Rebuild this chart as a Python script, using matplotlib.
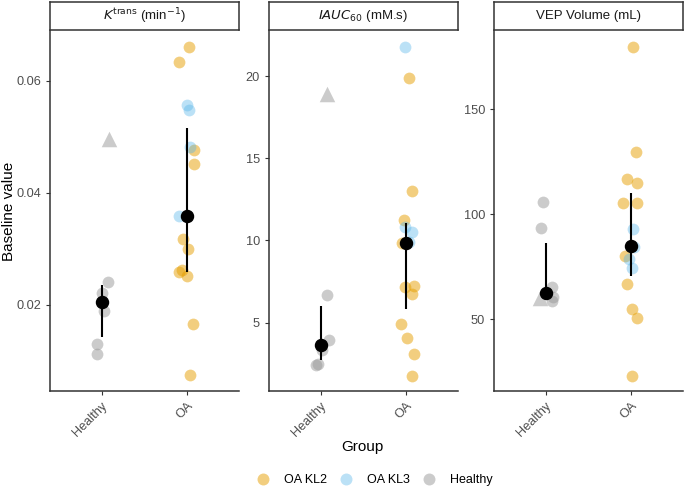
import matplotlib.pyplot as plt
from matplotlib.lines import Line2D

plt.rcParams['font.family'] = ['Liberation Sans', 'DejaVu Sans']

groups = ["Healthy", "OA"]

# Ktrans panel
k_healthy = [0.0241, 0.0221, 0.0188, 0.0130, 0.0112]
k_healthy_jit = [0.07, 0.01, 0.03, -0.05, -0.05]
k_tri = 0.0496
k_kl2 = [0.0660, 0.0633, 0.0476, 0.0452, 0.0317, 0.0300, 0.0259, 0.0262, 0.0252, 0.0166, 0.0074]
k_kl2_jit = [0.02, -0.10, 0.08, 0.08, -0.05, 0.01, -0.10, -0.06, 0.00, 0.06, 0.03]
k_kl3 = [0.0557, 0.0548, 0.0482, 0.0358]
k_kl3_jit = [-0.01, 0.02, 0.03, -0.10]
k_mean = [0.0205, 0.0358]
k_lo = [0.0143, 0.0259]
k_hi = [0.0236, 0.0516]

# IAUC60 panel
i_healthy = [6.68, 3.94, 3.33, 2.48, 2.45]
i_healthy_jit = [0.08, 0.10, 0.02, -0.03, -0.05]
i_tri = 18.9
i_kl2 = [19.88, 13.02, 11.24, 9.82, 7.18, 7.22, 6.74, 4.90, 4.04, 3.07, 1.77]
i_kl2_jit = [0.03, 0.07, -0.03, -0.05, -0.02, 0.09, 0.07, -0.06, 0.01, 0.09, 0.07]
i_kl3 = [21.75, 10.83, 10.53, 9.92]
i_kl3_jit = [-0.02, -0.02, 0.06, 0.03]
i_mean = [3.64, 9.86]
i_lo = [2.7, 5.83]
i_hi = [6.0, 11.04]

# VEP volume panel
v_healthy = [106.0, 93.3, 65.4, 60.4, 58.6]
v_healthy_jit = [-0.03, -0.05, 0.08, 0.09, 0.07]
v_tri = 59.9
v_kl2 = [179.6, 129.6, 116.8, 115.0, 105.2, 105.2, 80.1, 66.6, 54.7, 50.7, 23.0]
v_kl2_jit = [0.02, 0.05, -0.05, 0.06, -0.10, 0.07, -0.08, -0.05, 0.01, 0.06, 0.01]
v_kl3 = [92.9, 84.5, 78.6, 74.5]
v_kl3_jit = [0.02, 0.03, -0.03, 0.01]
v_mean = [62.6, 84.8]
v_lo = [59.1, 70.5]
v_hi = [86.4, 110.0]

titles = [r"$K^{\mathrm{trans}}$ (min$^{-1}$)", r"$\mathit{IAUC}_{60}$ (mM.s)", "VEP Volume (mL)"]
yticks = [[0.02, 0.04, 0.06], [5, 10, 15, 20], [50, 100, 150]]
ticklabels = [["0.02", "0.04", "0.06"], ["5", "10", "15", "20"], ["50", "100", "150"]]
ylims = [(0.0046, 0.0689), (0.84, 22.74), (15.7, 187.3)]

panels = [
    (k_healthy, k_healthy_jit, k_tri, k_kl2, k_kl2_jit, k_kl3, k_kl3_jit, k_mean, k_lo, k_hi),
    (i_healthy, i_healthy_jit, i_tri, i_kl2, i_kl2_jit, i_kl3, i_kl3_jit, i_mean, i_lo, i_hi),
    (v_healthy, v_healthy_jit, v_tri, v_kl2, v_kl2_jit, v_kl3, v_kl3_jit, v_mean, v_lo, v_hi),
]
tri_jit = [0.09, 0.08, -0.06]

c_kl2 = "#E69F00"
c_kl3 = "#56B4E9"
c_hea = "#999999"

fig = plt.figure(figsize=(6.85, 4.88), dpi=100)
lefts = [50, 269, 494]
width = 189
bottom = 1 - 391 / 488
top = 1 - 31 / 488

for i, p in enumerate(panels):
    hea, hea_j, tri, kl2, kl2_j, kl3, kl3_j, mean, lo, hi = p
    ax = fig.add_axes([lefts[i] / 685, bottom, width / 685, top - bottom])
    ax.scatter([1 + j for j in hea_j], hea, s=72, color=c_hea, alpha=0.5, lw=0, zorder=2)
    ax.scatter([1 + tri_jit[i]], [tri], s=125, marker="^", color=c_hea, alpha=0.5, lw=0, zorder=2)
    ax.scatter([2 + j for j in kl2_j], kl2, s=72, color=c_kl2, alpha=0.5, lw=0, zorder=2)
    ax.scatter([2 + j for j in kl3_j], kl3, s=72, color=c_kl3, alpha=0.4, lw=0, zorder=2)
    ax.vlines([1, 2], lo, hi, color="black", lw=1.5, zorder=3)
    ax.scatter([1, 2], mean, s=75, color="black", zorder=4)

    ax.set_xlim(0.4, 2.6)
    ax.set_ylim(*ylims[i])
    ax.set_xticks([1, 2])
    ax.set_xticklabels(groups, rotation=45, ha="right", rotation_mode="anchor")
    ax.set_yticks(yticks[i])
    ax.set_yticklabels(ticklabels[i])
    ax.tick_params(colors="#4D4D4D", labelsize=9.2, length=3)
    ax.tick_params(axis="both", color="#333333")
    for s in ["top", "right"]:
        ax.spines[s].set_visible(False)
    for s in ["left", "bottom"]:
        ax.spines[s].set_linewidth(1.1)
        ax.spines[s].set_color("#333333")

    # strip header
    strip = fig.add_axes([lefts[i] / 685, 1 - 30 / 488, width / 685, 28 / 488])
    strip.set_xticks([])
    strip.set_yticks([])
    for s in strip.spines.values():
        s.set_linewidth(1.1)
        s.set_color("#333333")
    strip.text(0.5, 0.5, titles[i], ha="center", va="center", fontsize=9.5, color="#1A1A1A")

fig.text(9 / 685, 1 - 211 / 488, "Baseline value", rotation=90, ha="center", va="center", fontsize=11)
fig.text(362 / 685, 1 - 447 / 488, "Group", ha="center", va="center", fontsize=11)

handles = [
    Line2D([], [], ls="", marker="o", ms=8.6, color=c_kl2, alpha=0.5, mew=0, label="OA KL2"),
    Line2D([], [], ls="", marker="o", ms=8.6, color=c_kl3, alpha=0.4, mew=0, label="OA KL3"),
    Line2D([], [], ls="", marker="o", ms=8.6, color=c_hea, alpha=0.5, mew=0, label="Healthy"),
]
fig.legend(handles=handles, loc="center", bbox_to_anchor=(374.5 / 685, 1 - 480 / 488), ncol=3,
           frameon=False, fontsize=9, handletextpad=1.18, columnspacing=1.02, handlelength=1.0,
           borderpad=0.2)

fig.savefig("out.png", dpi=100)
